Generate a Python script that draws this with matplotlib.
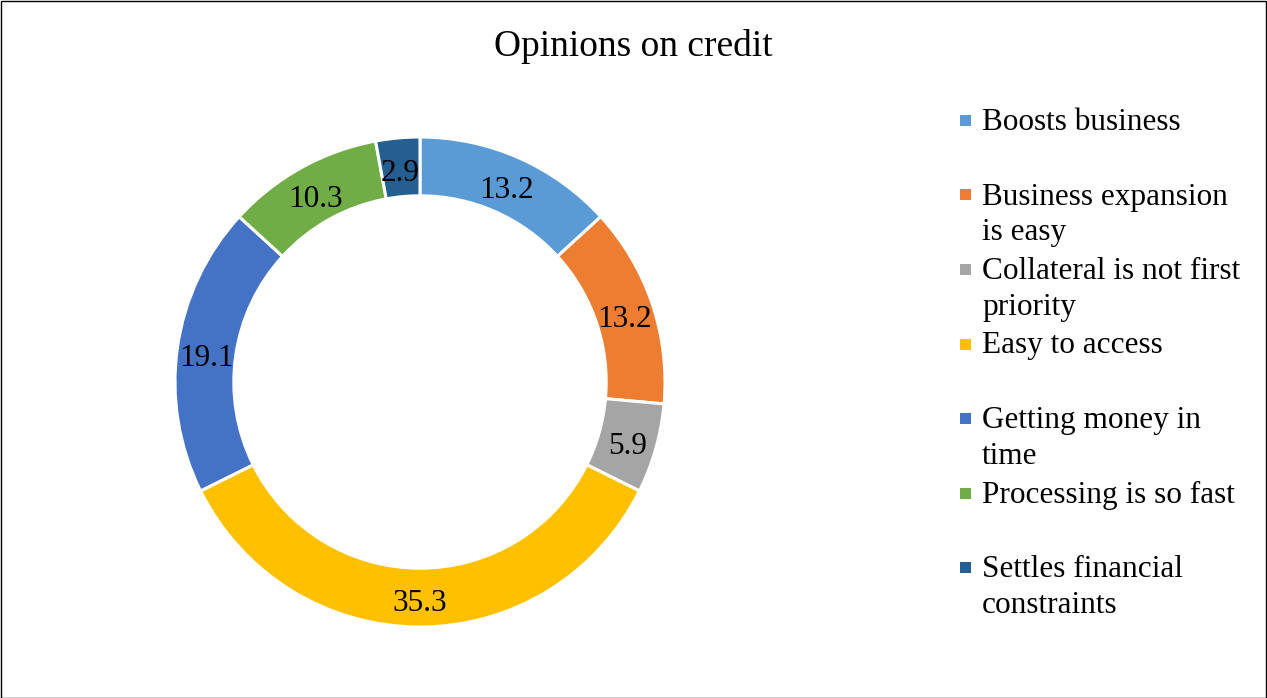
import matplotlib
matplotlib.use('Agg')
import matplotlib.pyplot as plt
from matplotlib.patches import Rectangle

plt.rcParams['font.family'] = ['Liberation Serif', 'DejaVu Serif']

# Data
categories = ['Boosts business', 'Business expansion\nis easy', 'Collateral is not first\npriority',
              'Easy to access', 'Getting money in\ntime', 'Processing is so fast',
              'Settles financial\nconstraints']
values = [13.2, 13.2, 5.9, 35.3, 19.1, 10.3, 2.9]
colors = ['#5B9BD5', '#ED7D31', '#A5A5A5', '#FFC000', '#4472C4', '#70AD47', '#255E91']

W, H = 1267, 698
fig = plt.figure(figsize=(W / 100, H / 100), dpi=100)

# donut: centre (420, 382) px, outer radius 245 px
lim = 1.05
r_px = 245
side = 2 * r_px * lim
ax = fig.add_axes([(420 - side / 2) / W, (H - 382 - side / 2) / H, side / W, side / H])

wedges, texts = ax.pie(values, colors=colors, startangle=90, counterclock=False,
                       labels=[f'{v:.1f}' for v in values], labeldistance=0.88,
                       wedgeprops=dict(width=0.24, edgecolor='white', linewidth=2.2),
                       textprops=dict(fontsize=22.5, color='black'))
for t in texts:
    t.set_ha('center')
    t.set_va('center')
    x, y = t.get_position()
    t.set_position((x, y - 0.025))
ax.set_xlim(-lim, lim)
ax.set_ylim(-lim, lim)
ax.set_aspect('equal')

fig.text(0.5, 1 - 47 / H, 'Opinions on credit', ha='center', va='center', fontsize=27)

# legend
y0 = 120
dy = 74.5
for i, (lab, c) in enumerate(zip(categories, colors)):
    y = y0 + i * dy
    fig.patches.append(Rectangle((960 / W, 1 - (y + 6) / H), 11 / W, 11 / H,
                                 transform=fig.transFigure, facecolor=c, edgecolor='none'))
    fig.text(982 / W, 1 - (y - 12) / H, lab, ha='left', va='top', fontsize=22.5,
             linespacing=1.3)

# outer border
fig.patches.append(Rectangle((0.5 / W, 0.5 / H), 1 - 1.5 / W, 1 - 1.5 / H,
                             transform=fig.transFigure, fill=False, edgecolor='black',
                             linewidth=1))

fig.savefig('out.png', dpi=100)
